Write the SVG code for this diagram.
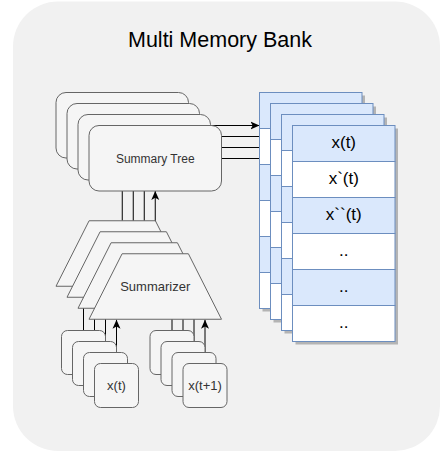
<svg xmlns="http://www.w3.org/2000/svg" width="441" height="452" viewBox="0 0 441 452">
<defs>
<style>
.bg{fill:#f1f1f1;stroke:none}
.box{fill:#f5f5f5;stroke:#666666;stroke-width:1}
.lbl{font-family:"Liberation Sans",Arial,Helvetica,sans-serif;fill:#333333;text-anchor:middle}
.tl{font-family:"Liberation Sans",Arial,Helvetica,sans-serif;fill:#000000;text-anchor:middle;font-size:17px}
.rb{fill:#dae8fc;stroke:#6c8ebf;stroke-width:1}
.rw{fill:#ffffff;stroke:#6c8ebf;stroke-width:1}
.sh{fill:#000000;opacity:0.25}
.ln{fill:none;stroke:#000000;stroke-width:1}
</style>
<marker id="arr" markerUnits="userSpaceOnUse" viewBox="0 -5 10 10" markerWidth="10" markerHeight="10" refX="9" refY="0" orient="auto">
<path d="M0,-4 L9,0 L0,4 L2.2,0 Z" fill="#000000"/>
</marker>
<g id="table">
<rect class="rb" x="0" y="0" width="102.5" height="36"/>
<rect class="rw" x="0" y="36" width="102.5" height="36"/>
<rect class="rb" x="0" y="72" width="102.5" height="36"/>
<rect class="rw" x="0" y="108" width="102.5" height="36"/>
<rect class="rb" x="0" y="144" width="102.5" height="36"/>
<rect class="rw" x="0" y="180" width="102.5" height="36"/>
<text class="tl" x="51.25" y="22.5">x(t)</text>
<text class="tl" x="51.25" y="58.5">x`(t)</text>
<text class="tl" x="51.25" y="94.5">x``(t)</text>
<text class="tl" x="51.25" y="130">..</text>
<text class="tl" x="51.25" y="166">..</text>
<text class="tl" x="51.25" y="202">..</text>
</g>
</defs>

<rect id="background" class="bg" x="13" y="1.5" width="427" height="449.5" rx="45" ry="45"/>
<text id="title" x="220" y="47" font-family="'Liberation Sans',Arial,Helvetica,sans-serif" font-size="21.5" fill="#000000" text-anchor="middle">Multi Memory Bank</text>

<g id="connectors">
<line class="ln" x1="188.5" y1="125.5" x2="259.5" y2="125.5" marker-end="url(#arr)"/>
<line class="ln" x1="199.5" y1="136.5" x2="270.5" y2="136.5" marker-end="url(#arr)"/>
<line class="ln" x1="210.5" y1="147.5" x2="281.5" y2="147.5" marker-end="url(#arr)"/>
<line class="ln" x1="221.5" y1="158.5" x2="292.5" y2="158.5" marker-end="url(#arr)"/>
<line class="ln" x1="122.25" y1="158" x2="122.25" y2="220.75"/>
<line class="ln" x1="133.25" y1="169" x2="133.25" y2="231.75"/>
<line class="ln" x1="144.25" y1="180" x2="144.25" y2="242.75"/>
<line class="ln" x1="155.25" y1="253.75" x2="155.25" y2="191" marker-end="url(#arr)"/>
<line class="ln" x1="83.5" y1="330.5" x2="83.5" y2="286.25"/>
<line class="ln" x1="94.5" y1="341.5" x2="94.5" y2="297.25"/>
<line class="ln" x1="105.5" y1="352.5" x2="105.5" y2="308.25"/>
<line class="ln" x1="116.5" y1="363.5" x2="116.5" y2="319.75" marker-end="url(#arr)"/>
<line class="ln" x1="172" y1="330.5" x2="172" y2="286.25"/>
<line class="ln" x1="183" y1="341.5" x2="183" y2="297.25"/>
<line class="ln" x1="194" y1="352.5" x2="194" y2="308.25"/>
<line class="ln" x1="205" y1="363.5" x2="205" y2="319.75" marker-end="url(#arr)"/>
</g>

<g id="summary-tree-1"><rect class="box" x="56" y="92.5" width="132.5" height="65.5" rx="10"/></g>
<g id="summary-tree-2"><rect class="box" x="67" y="103.5" width="132.5" height="65.5" rx="10"/></g>
<g id="summary-tree-3"><rect class="box" x="78" y="114.5" width="132.5" height="65.5" rx="10"/></g>
<g id="summary-tree-4"><rect class="box" x="89" y="125.5" width="132.5" height="65.5" rx="10"/>
<text class="lbl" x="155.25" y="162.5" font-size="12">Summary Tree</text></g>

<g id="summarizer-1"><path class="box" d="M56,286.25 L89.1,220.75 L155.4,220.75 L188.5,286.25 Z"/></g>
<g id="summarizer-2"><path class="box" d="M67,297.25 L100.1,231.75 L166.4,231.75 L199.5,297.25 Z"/></g>
<g id="summarizer-3"><path class="box" d="M78,308.25 L111.1,242.75 L177.4,242.75 L210.5,308.25 Z"/></g>
<g id="summarizer-4"><path class="box" d="M89,319.25 L122.1,253.75 L188.4,253.75 L221.5,319.25 Z"/>
<text class="lbl" x="155.25" y="291" font-size="13">Summarizer</text></g>

<g id="input-xt-1"><rect class="box" x="61.5" y="330.5" width="44" height="44" rx="6"/></g>
<g id="input-xt-2"><rect class="box" x="72.5" y="341.5" width="44" height="44" rx="6"/></g>
<g id="input-xt-3"><rect class="box" x="83.5" y="352.5" width="44" height="44" rx="6"/></g>
<g id="input-xt-4"><rect class="box" x="94.5" y="363.5" width="44" height="44" rx="6"/>
<text class="lbl" x="116.5" y="390" font-size="13">x(t)</text></g>

<g id="input-xt1-1"><rect class="box" x="150" y="330.5" width="44" height="44" rx="6"/></g>
<g id="input-xt1-2"><rect class="box" x="161" y="341.5" width="44" height="44" rx="6"/></g>
<g id="input-xt1-3"><rect class="box" x="172" y="352.5" width="44" height="44" rx="6"/></g>
<g id="input-xt1-4"><rect class="box" x="183" y="363.5" width="44" height="44" rx="6"/>
<text class="lbl" x="205" y="390" font-size="13">x(t+1)</text></g>

<g id="memory-table-1"><rect class="sh" x="262.5" y="95.5" width="102.5" height="216"/><use href="#table" x="259.5" y="92.5"/></g>
<g id="memory-table-2"><rect class="sh" x="273.5" y="106.5" width="102.5" height="216"/><use href="#table" x="270.5" y="103.5"/></g>
<g id="memory-table-3"><rect class="sh" x="284.5" y="117.5" width="102.5" height="216"/><use href="#table" x="281.5" y="114.5"/></g>
<g id="memory-table-4"><rect class="sh" x="295.5" y="128.5" width="102.5" height="216"/><use href="#table" x="292.5" y="125.5"/></g>
</svg>
